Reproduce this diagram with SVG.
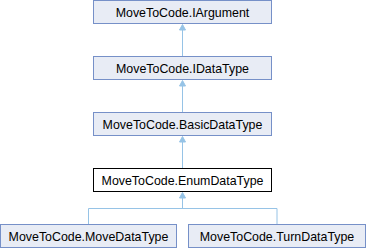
<svg xmlns="http://www.w3.org/2000/svg" width="366" height="248" viewBox="0 0 366 248">
  <style>
    .node rect { fill: #e8ecf5; stroke: #7690c8; stroke-width: 1; }
    .node.cur rect { fill: #ffffff; stroke: #000000; }
    .node text { font-family: "Liberation Sans", Arial, sans-serif; font-size: 12.4px; fill: #000000; text-anchor: middle; }
    .edge { fill: none; stroke: #96c3e6; stroke-width: 1; }
    .head { fill: #96c3e6; stroke: #96c3e6; stroke-width: 1; }
  </style>

  <g id="connectors">
    <!-- IDataType -> IArgument -->
    <path class="edge" d="M182.5,56.5 V29"/>
    <polygon class="head" points="182.5,24.5 179.5,30 185.5,30"/>
    <!-- BasicDataType -> IDataType -->
    <path class="edge" d="M182.5,112.5 V85"/>
    <polygon class="head" points="182.5,80.5 179.5,86 185.5,86"/>
    <!-- EnumDataType -> BasicDataType -->
    <path class="edge" d="M182.5,168.5 V141"/>
    <polygon class="head" points="182.5,136.5 179.5,142 185.5,142"/>
    <!-- Move/Turn -> EnumDataType -->
    <path class="edge" d="M88.5,224.5 V208.5 H277 V224.5 M182.5,208.5 V197"/>
    <polygon class="head" points="182.5,192.5 179.5,198 185.5,198"/>
  </g>

  <g id="node-iargument" class="node">
    <rect x="93.5" y="0.5" width="178" height="23"/>
    <text x="182.5" y="16.5">MoveToCode.IArgument</text>
  </g>
  <g id="node-idatatype" class="node">
    <rect x="93.5" y="56.5" width="178" height="23"/>
    <text x="182.5" y="72.5">MoveToCode.IDataType</text>
  </g>
  <g id="node-basicdatatype" class="node">
    <rect x="93.5" y="112.5" width="178" height="23"/>
    <text x="182.5" y="128.5">MoveToCode.BasicDataType</text>
  </g>
  <g id="node-enumdatatype" class="node cur">
    <rect x="93.5" y="168.5" width="178" height="23"/>
    <text x="182.5" y="184.5">MoveToCode.EnumDataType</text>
  </g>
  <g id="node-movedatatype" class="node">
    <rect x="0.5" y="224.5" width="176" height="23"/>
    <text x="88.5" y="240.5">MoveToCode.MoveDataType</text>
  </g>
  <g id="node-turndatatype" class="node">
    <rect x="188.5" y="224.5" width="177" height="23"/>
    <text x="277" y="240.5">MoveToCode.TurnDataType</text>
  </g>
</svg>
